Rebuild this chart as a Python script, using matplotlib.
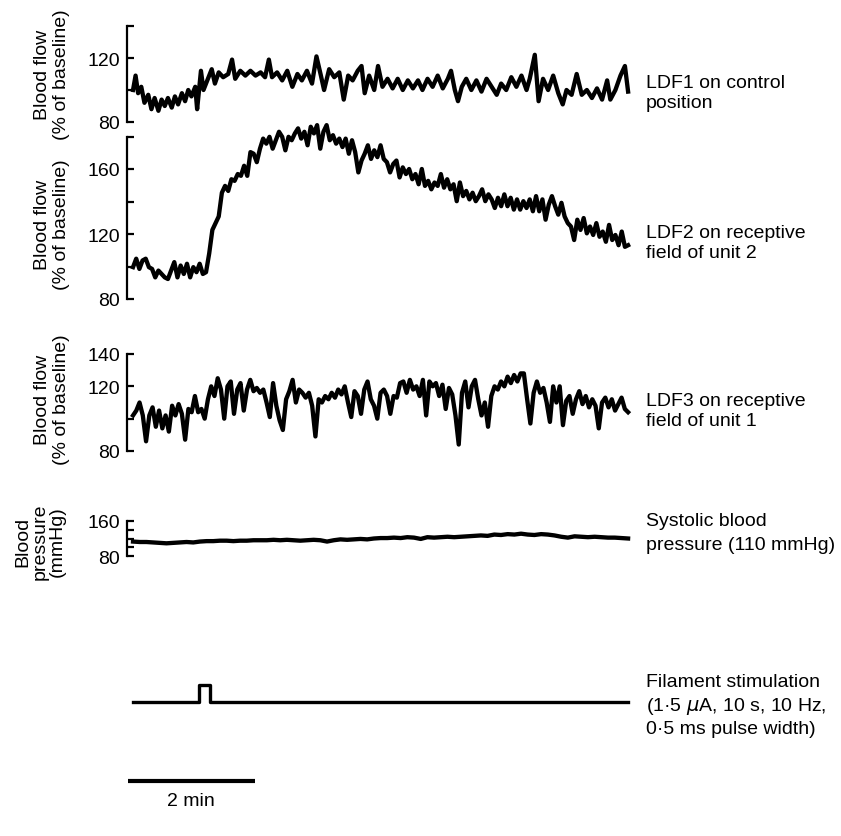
import numpy as np
import matplotlib.pyplot as plt

plt.rcParams['font.family'] = ['Liberation Sans', 'DejaVu Sans']
plt.rcParams['font.size'] = 14

# ---- data (time in min, flow in % of baseline) ----
ldf1_t = [0, 0.04, 0.08, 0.13, 0.18, 0.24, 0.29, 0.34, 0.40, 0.45, 0.50, 0.55, 0.61, 0.66,
          0.71, 0.77, 0.82, 0.87, 0.92, 0.98, 1.01, 1.07, 1.11, 1.19, 1.24, 1.29, 1.35, 1.42,
          1.50, 1.56, 1.61, 1.69, 1.77, 1.85, 1.93, 2.01, 2.08, 2.14, 2.19, 2.27, 2.35, 2.43,
          2.51, 2.59, 2.66, 2.74, 2.82, 2.89, 2.96, 3.01, 3.09, 3.17, 3.25, 3.32, 3.39, 3.46,
          3.54, 3.60, 3.65, 3.72, 3.80, 3.86, 3.93, 4.01, 4.09, 4.17, 4.25, 4.33, 4.41, 4.49,
          4.56, 4.64, 4.72, 4.80, 4.88, 4.96, 5.01, 5.07, 5.12, 5.18, 5.25, 5.33, 5.41, 5.49,
          5.57, 5.65, 5.73, 5.80, 5.88, 5.96, 6.04, 6.12, 6.20, 6.25, 6.33, 6.39, 6.46, 6.54,
          6.62, 6.70, 6.77, 6.83, 6.91, 6.99, 7.07, 7.15, 7.23, 7.31, 7.39, 7.47, 7.52, 7.60,
          7.68, 7.75, 7.80]
ldf1 = [100, 109, 98, 102, 92, 97, 88, 95, 87, 94, 90, 95, 89, 96, 91, 98, 93, 100, 96, 102,
        88, 112, 100, 108, 113, 104, 111, 108, 110, 119, 107, 112, 109, 112, 109, 111, 108, 119,
        108, 111, 106, 112, 102, 110, 106, 112, 104, 121, 109, 100, 113, 108, 111, 94, 109, 106,
        112, 115, 98, 109, 100, 115, 102, 107, 101, 107, 100, 106, 101, 106, 100, 107, 102, 109,
        101, 107, 112, 100, 93, 102, 107, 100, 106, 99, 107, 102, 97, 104, 100, 108, 102, 109,
        100, 107, 122, 93, 107, 100, 109, 98, 91, 100, 97, 110, 97, 100, 95, 101, 94, 106, 94,
        100, 109, 115, 99]

ldf2 = [99.6, 104.8, 98.5, 103.7, 104.8, 99.6, 98.5, 93.3, 97.5, 95.4, 93.3, 92.3, 97.5, 102.7,
        93.3, 100.6, 95.4, 101.7, 93.3, 99.6, 96.5, 101.7, 95.4, 96.5, 108, 122.5, 126.7, 130.8,
        145.4, 149.6, 146.5, 153.7, 152.7, 156.9, 155.8, 162, 155.8, 170.4, 169.4, 164.2, 172.5,
        178.7, 175.6, 179.8, 172.5, 177.7, 182.9, 179.8, 171.5, 179.8, 177.7, 181.9, 185, 178.7,
        182.9, 174.6, 186, 181.9, 187, 172.5, 182.9, 187, 177.7, 180.8, 175.6, 178.7, 173.5,
        178.7, 169.4, 177.7, 170.4, 157.9, 165.2, 169.4, 174.6, 166.2, 171.5, 167.3, 174.6,
        166.2, 164.2, 157.9, 163.1, 165.2, 154.8, 161, 156.9, 160, 153.7, 156.9, 150.6, 160,
        149.6, 152.7, 147.5, 151.7, 149.6, 156.9, 148.5, 153.7, 147.5, 150.6, 140.2, 151.7,
        143.3, 146.5, 141.3, 145.4, 140.2, 143.3, 147.5, 140.2, 144.4, 141.3, 136, 142.3, 137.1,
        144.4, 137.1, 142.3, 135, 141.3, 135, 140.2, 136, 141.3, 134, 143.3, 134, 141.3, 128.8,
        138.1, 143.3, 137.1, 131.9, 139.2, 130.8, 126.7, 124.6, 116.3, 128.8, 122.5, 129.8,
        120.4, 124.6, 119.4, 126.7, 118.3, 121.5, 115.2, 125.6, 116.3, 119.4, 113.1, 121.5,
        112.1, 113.1]

ldf3 = [102, 105, 110, 102, 86, 102, 107, 95, 105, 94, 102, 92, 108, 102, 109, 103, 87, 106,
        104, 114, 104, 106, 100, 112, 120, 114, 125, 118, 100, 120, 123, 103, 118, 122, 105, 118,
        124, 117, 119, 116, 118, 110, 101, 122, 108, 99, 93, 112, 117, 124, 110, 118, 116, 113,
        116, 108, 89, 112, 110, 114, 112, 116, 113, 118, 115, 120, 110, 101, 117, 114, 103, 118,
        123, 112, 108, 100, 116, 118, 114, 103, 114, 113, 122, 123, 116, 124, 118, 120, 114, 124,
        102, 123, 120, 122, 114, 121, 106, 119, 115, 102, 84, 116, 123, 107, 120, 124, 112, 102,
        110, 95, 114, 120, 118, 123, 120, 126, 122, 127, 123, 128, 128, 112, 97, 116, 123, 116,
        119, 110, 98, 120, 110, 120, 96, 111, 114, 103, 112, 117, 109, 114, 107, 112, 108, 94,
        110, 113, 107, 112, 105, 109, 113, 106, 104]

# systolic blood pressure (mmHg)
bp = [113, 112, 112, 111, 110, 109, 110, 111, 112, 111, 113, 114, 114, 115, 115, 114, 115, 115,
      116, 116, 116, 117, 116, 117, 116, 115, 116, 117, 116, 113, 116, 118, 117, 118, 119, 118,
      120, 121, 121, 122, 121, 123, 122, 119, 123, 122, 123, 124, 123, 124, 125, 126, 127, 126,
      129, 128, 130, 129, 131, 129, 128, 130, 129, 127, 124, 122, 125, 124, 123, 124, 123, 122,
      122, 121, 120]

rec_len = 7.8          # min
stim_on, stim_off = 1.04, 1.21   # min (10 s train)
scale_bar = 2          # min

flow_label = 'Blood flow\n(% of baseline)'
right_labels = [['LDF1 on control', 'position'],
                ['LDF2 on receptive', 'field of unit 2'],
                ['LDF3 on receptive', 'field of unit 1'],
                ['Systolic blood', 'pressure (110 mmHg)'],
                ['Filament stimulation', '(1\u00b75 $\\mu$A, 10 s, 10 Hz,', '0\u00b75 ms pulse width)']]

# ---- layout (pixels) ----
W, H = 841, 837
fig = plt.figure(figsize=(W / 100, H / 100), dpi=100)


def add_ax(x0, x1, ytop, ybot):
    return fig.add_axes([x0 / W, 1 - ybot / H, (x1 - x0) / W, (ybot - ytop) / H])


def ftext(x, y, s, **kw):
    fig.text(x / W, 1 - y / H, s, **kw)


T0, T1 = -0.095, 7.83


def trace_panel(ytop, ybot, t, v, ylim, ticks, labels):
    ax = add_ax(127, 630, ytop, ybot)
    ax.plot(t, v, color='black', lw=3.1, solid_joinstyle='round', clip_on=False)
    ax.set_xlim(T0, T1)
    ax.set_ylim(*ylim)
    for s in ['top', 'right', 'bottom']:
        ax.spines[s].set_visible(False)
    ax.spines['left'].set_linewidth(1.6)
    ax.set_xticks([])
    ax.set_yticks(ticks)
    ax.set_yticklabels(labels)
    ax.tick_params(axis='y', direction='in', length=5, width=1.6, pad=5, labelsize=14)
    ax.patch.set_alpha(0)
    return ax


trace_panel(27, 123, ldf1_t, ldf1, (80, 140), [80, 100, 120, 140], ['80', '', '120', ''])
trace_panel(137.5, 300, np.linspace(0, rec_len, len(ldf2)), ldf2, (80, 180),
            [80, 100, 120, 140, 160, 180], ['80', '', '120', '', '160', ''])
trace_panel(355, 452, np.linspace(0, rec_len, len(ldf3)), ldf3, (80, 140),
            [80, 100, 120, 140], ['80', '', '120', '140'])
trace_panel(522, 557, np.linspace(0, rec_len, len(bp)), bp, (80, 160),
            [80, 100, 120, 140, 160], ['80', '', '', '', '160'])

# stimulation marker
ax5 = add_ax(127, 630, 686, 703)
ax5.plot([0, stim_on, stim_on, stim_off, stim_off, rec_len], [0, 0, 1, 1, 0, 0],
         color='black', lw=2.4, clip_on=False)
ax5.set_xlim(T0, T1)
ax5.set_ylim(0, 1)
ax5.axis('off')

# time scale bar
ax6 = add_ax(128, 255, 772, 792)
ax6.plot([0, scale_bar], [0, 0], color='black', lw=3.0, solid_capstyle='butt')
ax6.set_xlim(0, scale_bar)
ax6.set_ylim(-1, 1)
ax6.axis('off')
ftext(191, 802, '%d min' % scale_bar, ha='center', va='center')

# y-axis titles
for yc in [75, 225, 400]:
    ftext(52, yc, flow_label, rotation=90, ha='center', va='center',
          multialignment='center', linespacing=1.15)
ftext(40, 542, 'Blood\npressure\n(mmHg)', rotation=90, ha='center', va='center',
      multialignment='center', linespacing=1.0)

# right-hand labels
first_line = [83, 234, 402, 522, 683]
line_gap = [20, 20, 20, 23, 23.5]
for lines, y0, gap in zip(right_labels, first_line, line_gap):
    for i, s in enumerate(lines):
        ftext(646, y0 + i * gap, s, ha='left', va='center')

fig.savefig('out.png', dpi=100)
